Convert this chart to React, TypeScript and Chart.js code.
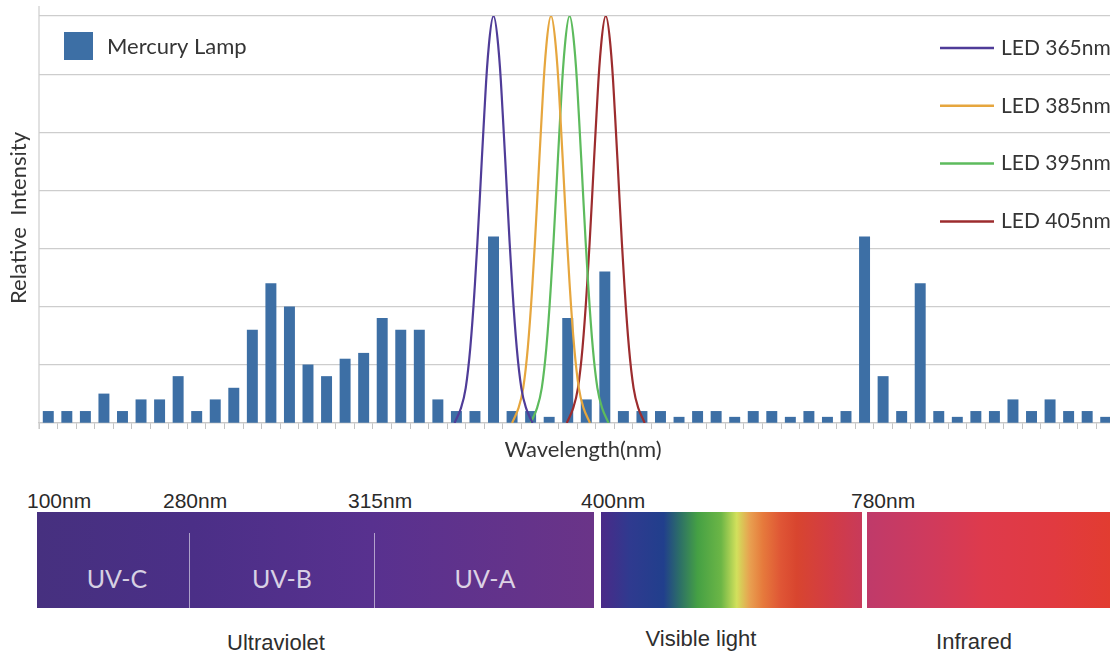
import { useEffect, useRef } from "react";
import { Chart, registerables } from "chart.js";

Chart.register(...registerables);

// ---------- data ----------
const categories = [
  "1", "2", "3", "4", "5", "6", "7", "8", "9", "10",
  "11", "12", "13", "14", "15", "16", "17", "18", "19", "20",
  "21", "22", "23", "24", "25", "26", "27", "28", "29", "30",
  "31", "32", "33", "34", "35", "36", "37", "38", "39", "40",
  "41", "42", "43", "44", "45", "46", "47", "48", "49", "50",
  "51", "52", "53", "54", "55", "56", "57", "58",
];

const mercuryLamp = [
  0.2, 0.2, 0.2, 0.5, 0.2, 0.4, 0.4, 0.8, 0.2, 0.4,
  0.6, 1.6, 2.4, 2.0, 1.0, 0.8, 1.1, 1.2, 1.8, 1.6,
  1.6, 0.4, 0.2, 0.2, 3.2, 0.2, 0.2, 0.1, 1.8, 0.4,
  2.6, 0.2, 0.2, 0.2, 0.1, 0.2, 0.2, 0.1, 0.2, 0.2,
  0.1, 0.2, 0.1, 0.2, 3.2, 0.8, 0.2, 2.4, 0.2, 0.1,
  0.2, 0.2, 0.4, 0.2, 0.4, 0.2, 0.2, 0.1,
];

// LED emission curves (x = position on the category index scale, y = intensity)
const ledShapeY = [0, 0.26, 0.6, 1.3, 2.4, 3.8, 5.3, 6.5, 7, 6.5, 5.3, 3.8, 2.4, 1.3, 0.6, 0.26, 0];
const led365X = [21.9, 22.25, 22.5, 22.75, 23.0, 23.25, 23.5, 23.75, 24.0, 24.25, 24.5, 24.75, 25.0, 25.25, 25.5, 25.75, 26.1];
const led365Y = ledShapeY;
const led385X = [25.0, 25.35, 25.6, 25.85, 26.1, 26.35, 26.6, 26.85, 27.1, 27.35, 27.6, 27.85, 28.1, 28.35, 28.6, 28.85, 29.2];
const led385Y = ledShapeY;
const led395X = [26.0, 26.35, 26.6, 26.85, 27.1, 27.35, 27.6, 27.85, 28.1, 28.35, 28.6, 28.85, 29.1, 29.35, 29.6, 29.85, 30.2];
const led395Y = ledShapeY;
const led405X = [27.95, 28.3, 28.55, 28.8, 29.05, 29.3, 29.55, 29.8, 30.05, 30.3, 30.55, 30.8, 31.05, 31.3, 31.55, 31.8, 32.15];
const led405Y = ledShapeY;

const ledLabels = ["LED 365nm", "LED 385nm", "LED 395nm", "LED 405nm"];
const ledColors = ["#4f3c98", "#e6a63e", "#5dbb5d", "#9c2c2e"];
const barLabel = "Mercury Lamp";
const barColor = "#3d6fa5";

const yMax = 7;
const xTitle = "Wavelength(nm)";
const yTitle = "Relative  Intensity";

const spectrumTicks = ["100nm", "280nm", "315nm", "400nm", "780nm"];
const spectrumTickX = [27, 163, 348, 581, 851];
const uvBands = ["UV-C", "UV-B", "UV-A"];
const uvBandX = [117, 282, 485];
const regionNames = ["Ultraviolet", "Visible light", "Infrared"];
const regionX = [276, 701, 974];
const regionY = [643, 639, 642];

const TXT = "Lato, 'Open Sans', sans-serif";
const INK = "#353535";

const overlayPlugin = {
  id: "overlay",
  beforeDatasetsDraw(chart: any) {
    const ctx = chart.ctx as CanvasRenderingContext2D;
    ctx.save();
    ctx.strokeStyle = "#cdcdcd";
    ctx.lineWidth = 1.2;
    ctx.beginPath();
    ctx.moveTo(chart.chartArea.left, 6);
    ctx.lineTo(chart.chartArea.left, chart.chartArea.bottom + 6);
    ctx.stroke();
    ctx.restore();
  },
  afterDraw(chart: any) {
    const ctx = chart.ctx as CanvasRenderingContext2D;
    ctx.save();
    ctx.fillStyle = INK;
    ctx.font = `22px ${TXT}`;
    ctx.textBaseline = "middle";

    // axis titles
    ctx.textAlign = "center";
    ctx.fillText(xTitle, 583, 450);
    ctx.save();
    ctx.translate(19, 218);
    ctx.rotate(-Math.PI / 2);
    ctx.fillText(yTitle, 0, 0);
    ctx.restore();

    // bar legend
    const ds = chart.data.datasets;
    ctx.textAlign = "left";
    ctx.fillStyle = ds[0].backgroundColor;
    ctx.fillRect(64, 32, 29, 28);
    ctx.fillStyle = INK;
    ctx.fillText(ds[0].label, 107, 47);

    // LED legend
    ctx.font = `21px ${TXT}`;
    for (let i = 1; i < ds.length; i++) {
      const y = 48 + (i - 1) * 57.8;
      ctx.strokeStyle = ds[i].borderColor;
      ctx.lineWidth = 2.5;
      ctx.beginPath();
      ctx.moveTo(940, y);
      ctx.lineTo(994, y);
      ctx.stroke();
      ctx.fillStyle = INK;
      ctx.fillText(ds[i].label, 1001, y);
    }
    ctx.restore();
  },
};

function ChartBlock() {
  const ref = useRef<HTMLCanvasElement | null>(null);
  useEffect(() => {
    if (!ref.current) return;
    const xs = [led365X, led385X, led395X, led405X];
    const ys = [led365Y, led385Y, led395Y, led405Y];
    const lineSets = ledLabels.map((label, k) => ({
      type: "line" as const,
      label,
      data: xs[k].map((x, j) => ({ x, y: ys[k][j] })),
      xAxisID: "xl",
      borderColor: ledColors[k],
      backgroundColor: ledColors[k],
      borderWidth: 2.2,
      pointRadius: 0,
      tension: 0.4,
      fill: false,
      order: 0,
    }));
    const chart = new Chart(ref.current, {
      type: "bar",
      data: {
        labels: categories,
        datasets: [
          {
            type: "bar",
            label: barLabel,
            data: mercuryLamp,
            backgroundColor: barColor,
            grouped: false,
            barThickness: 10.3,
            order: 1,
          } as any,
          ...lineSets,
        ],
      },
      options: {
        responsive: false,
        animation: false,
        layout: { padding: { left: 39, right: 15, top: 16, bottom: 41 } },
        plugins: { legend: { display: false }, tooltip: { enabled: false } },
        scales: {
          x: {
            type: "category",
            offset: true,
            grid: {
              offset: true,
              drawOnChartArea: false,
              drawTicks: true,
              tickLength: 6,
              color: "#c4c4c4",
            },
            border: { display: true, color: "#c8c8c8", width: 1.2 },
            ticks: { display: false },
          },
          xl: {
            type: "linear",
            display: false,
            offset: false,
            min: -0.5,
            max: categories.length - 0.5,
            grid: { offset: false },
          },
          y: {
            min: 0,
            max: yMax,
            ticks: { display: false, stepSize: 1 },
            grid: { drawTicks: false, color: "#cdcdcd", lineWidth: 1.2 },
            border: { display: false },
          },
        },
      },
      plugins: [overlayPlugin],
    } as any);
    return () => chart.destroy();
  }, []);
  return (
    <canvas
      ref={ref}
      width={1130}
      height={470}
      style={{ position: "absolute", left: 0, top: 0, width: 1130, height: 470 }}
    />
  );
}

const abs = (o: any) => ({ position: "absolute" as const, ...o });

export default function App() {
  return (
    <div
      style={{
        position: "fixed",
        left: 0,
        top: 0,
        width: 1110,
        height: 657,
        overflow: "hidden",
        background: "#ffffff",
      }}
    >
      <ChartBlock />
      {/* spectrum bands */}
      <div
        style={abs({
          left: 37,
          top: 512,
          width: 557,
          height: 96,
          background:
            "linear-gradient(to right, #46307f 0%, #4b2f87 28%, #58318f 60%, #6a3488 100%)",
        })}
      />
      <div style={abs({ left: 189, top: 533, width: 1, height: 75, background: "rgba(255,255,255,0.55)" })} />
      <div style={abs({ left: 374, top: 533, width: 1, height: 75, background: "rgba(255,255,255,0.55)" })} />
      <div
        style={abs({
          left: 601,
          top: 512,
          width: 261,
          height: 96,
          background:
            "linear-gradient(to right, #4a2a88 0%, #2f3a8f 11%, #213f8c 24%, #2c6e68 30%, #45a044 37%, #6cb646 46%, #d2e05c 52%, #e8a050 57%, #e67a3c 62%, #df5535 69%, #d8452f 75%, #d23c45 88%, #c83a5a 100%)",
        })}
      />
      <div
        style={abs({
          left: 867,
          top: 512,
          width: 260,
          height: 96,
          background:
            "linear-gradient(to right, #bf3a6a 0%, #d03a5c 25%, #de3a4c 45%, #e13a40 72%, #e23d2c 100%)",
        })}
      />
      {spectrumTicks.map((t, i) => (
        <div
          key={t}
          style={abs({
            left: spectrumTickX[i],
            top: 499.5,
            transform: "translateY(-50%)",
            font: "21px 'Liberation Sans', Arial, sans-serif",
            lineHeight: "21px",
            color: "#2a2a2a",
            whiteSpace: "nowrap",
          })}
        >
          {t}
        </div>
      ))}
      {uvBands.map((t, i) => (
        <div
          key={t}
          style={abs({
            left: uvBandX[i],
            top: 577.5,
            transform: "translate(-50%,-50%)",
            font: `25px ${TXT}`,
            lineHeight: "25px",
            color: "rgba(255,255,255,0.78)",
            whiteSpace: "nowrap",
          })}
        >
          {t}
        </div>
      ))}
      {regionNames.map((t, i) => (
        <div
          key={t}
          style={abs({
            left: regionX[i],
            top: regionY[i],
            transform: "translate(-50%,-50%)",
            font: "22px 'Liberation Sans', Arial, sans-serif",
            lineHeight: "22px",
            color: "#2e2e2e",
            whiteSpace: "nowrap",
          })}
        >
          {t}
        </div>
      ))}
    </div>
  );
}
